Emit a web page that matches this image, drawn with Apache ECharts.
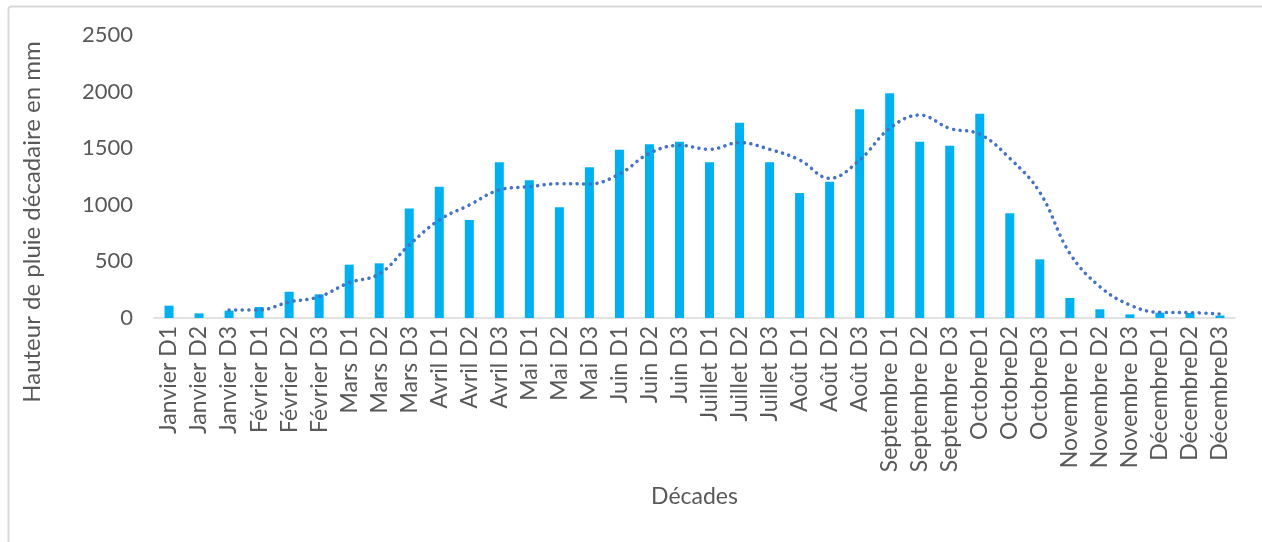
<!DOCTYPE html>
<html>
<head>
    <meta charset="utf-8">
    <script src="https://cdn.jsdelivr.net/npm/echarts@6/dist/echarts.min.js"></script>
    <style>
        html, body { margin: 0; padding: 0; background: #fff; }
        #main { width: 1262px; height: 542px; }
    </style>
</head>
<body>
<div id="main"></div>
<script type="text/javascript">
    // décades de l'année
    var decades = ['Janvier D1', 'Janvier D2', 'Janvier D3', 'Février D1', 'Février D2', 'Février D3',
        'Mars D1', 'Mars D2', 'Mars D3', 'Avril D1', 'Avril D2', 'Avril D3',
        'Mai D1', 'Mai D2', 'Mai D3', 'Juin D1', 'Juin D2', 'Juin D3',
        'Juillet D1', 'Juillet D2', 'Juillet D3', 'Août D1', 'Août D2', 'Août D3',
        'Septembre D1', 'Septembre D2', 'Septembre D3', 'OctobreD1', 'OctobreD2', 'OctobreD3',
        'Novembre D1', 'Novembre D2', 'Novembre D3', 'DécembreD1', 'DécembreD2', 'DécembreD3'];

    // hauteur de pluie par décade (mm)
    var pluie = [109, 41, 65, 97, 232, 209, 471, 483, 968, 1160, 866, 1375,
        1216, 978, 1331, 1487, 1534, 1557, 1375, 1725, 1375, 1104, 1204, 1843,
        1985, 1557, 1522, 1805, 925, 518, 177, 77, 32, 47, 44, 22];

    // courbe de tendance (moyenne mobile)
    var tendance = [null, null, 71, 71, 141, 188, 312, 389, 645, 866, 998, 1131,
        1160, 1187, 1184, 1272, 1455, 1525, 1490, 1549, 1490, 1396, 1234, 1396,
        1675, 1793, 1675, 1623, 1411, 1110, 571, 277, 115, 50, 48, 35];

    var yTicks = [0, 500, 1000, 1500, 2000, 2500];

    var police = 'Lato, "Open Sans", sans-serif';
    var gris = '#595959';

    var myChart = echarts.init(document.getElementById('main'));

    var option = {
        animation: false,
        textStyle: { fontFamily: police },
        grid: {
            left: 154,
            right: 27,
            top: 35,
            bottom: 224,
            containLabel: false
        },
        graphic: [
            {
                type: 'rect',
                shape: { x: 8.5, y: 6.5, width: 1300, height: 600, r: 3 },
                style: { fill: 'none', stroke: '#d9d9d9', lineWidth: 2 },
                silent: true
            },
            {
                type: 'text',
                x: 32,
                y: 222,
                rotation: Math.PI / 2,
                style: {
                    text: 'Hauteur de pluie décadaire en mm',
                    font: '24px ' + police,
                    fill: gris,
                    textAlign: 'center',
                    textVerticalAlign: 'middle'
                }
            }
        ],
        xAxis: {
            type: 'category',
            data: decades,
            name: 'Décades',
            nameLocation: 'middle',
            nameGap: 167,
            nameTextStyle: { color: gris, fontSize: 23, fontFamily: police },
            axisLine: { lineStyle: { color: '#d9d9d9', width: 1.5 } },
            axisTick: { show: false },
            axisLabel: {
                rotate: 90,
                interval: 0,
                margin: 8,
                color: gris,
                fontSize: 23,
                fontFamily: police
            }
        },
        yAxis: {
            type: 'value',
            min: yTicks[0],
            max: yTicks[yTicks.length - 1],
            interval: 500,
            axisLine: { show: false },
            axisTick: { show: false },
            splitLine: { show: false },
            axisLabel: {
                margin: 21,
                color: gris,
                fontSize: 22,
                fontFamily: police,
                formatter: function (v) { return String(v); }
            }
        },
        series: [
            {
                name: 'Hauteur de pluie',
                type: 'bar',
                data: pluie,
                barWidth: 9,
                itemStyle: { color: '#00b0f0' }
            },
            {
                name: 'Tendance',
                type: 'line',
                data: tendance,
                smooth: 0.4,
                symbol: 'none',
                lineStyle: {
                    color: '#4472c4',
                    width: 3.5,
                    type: [0.1, 6.5],
                    cap: 'round'
                },
                z: 3
            }
        ]
    };

    myChart.setOption(option);
</script>
</body>
</html>
